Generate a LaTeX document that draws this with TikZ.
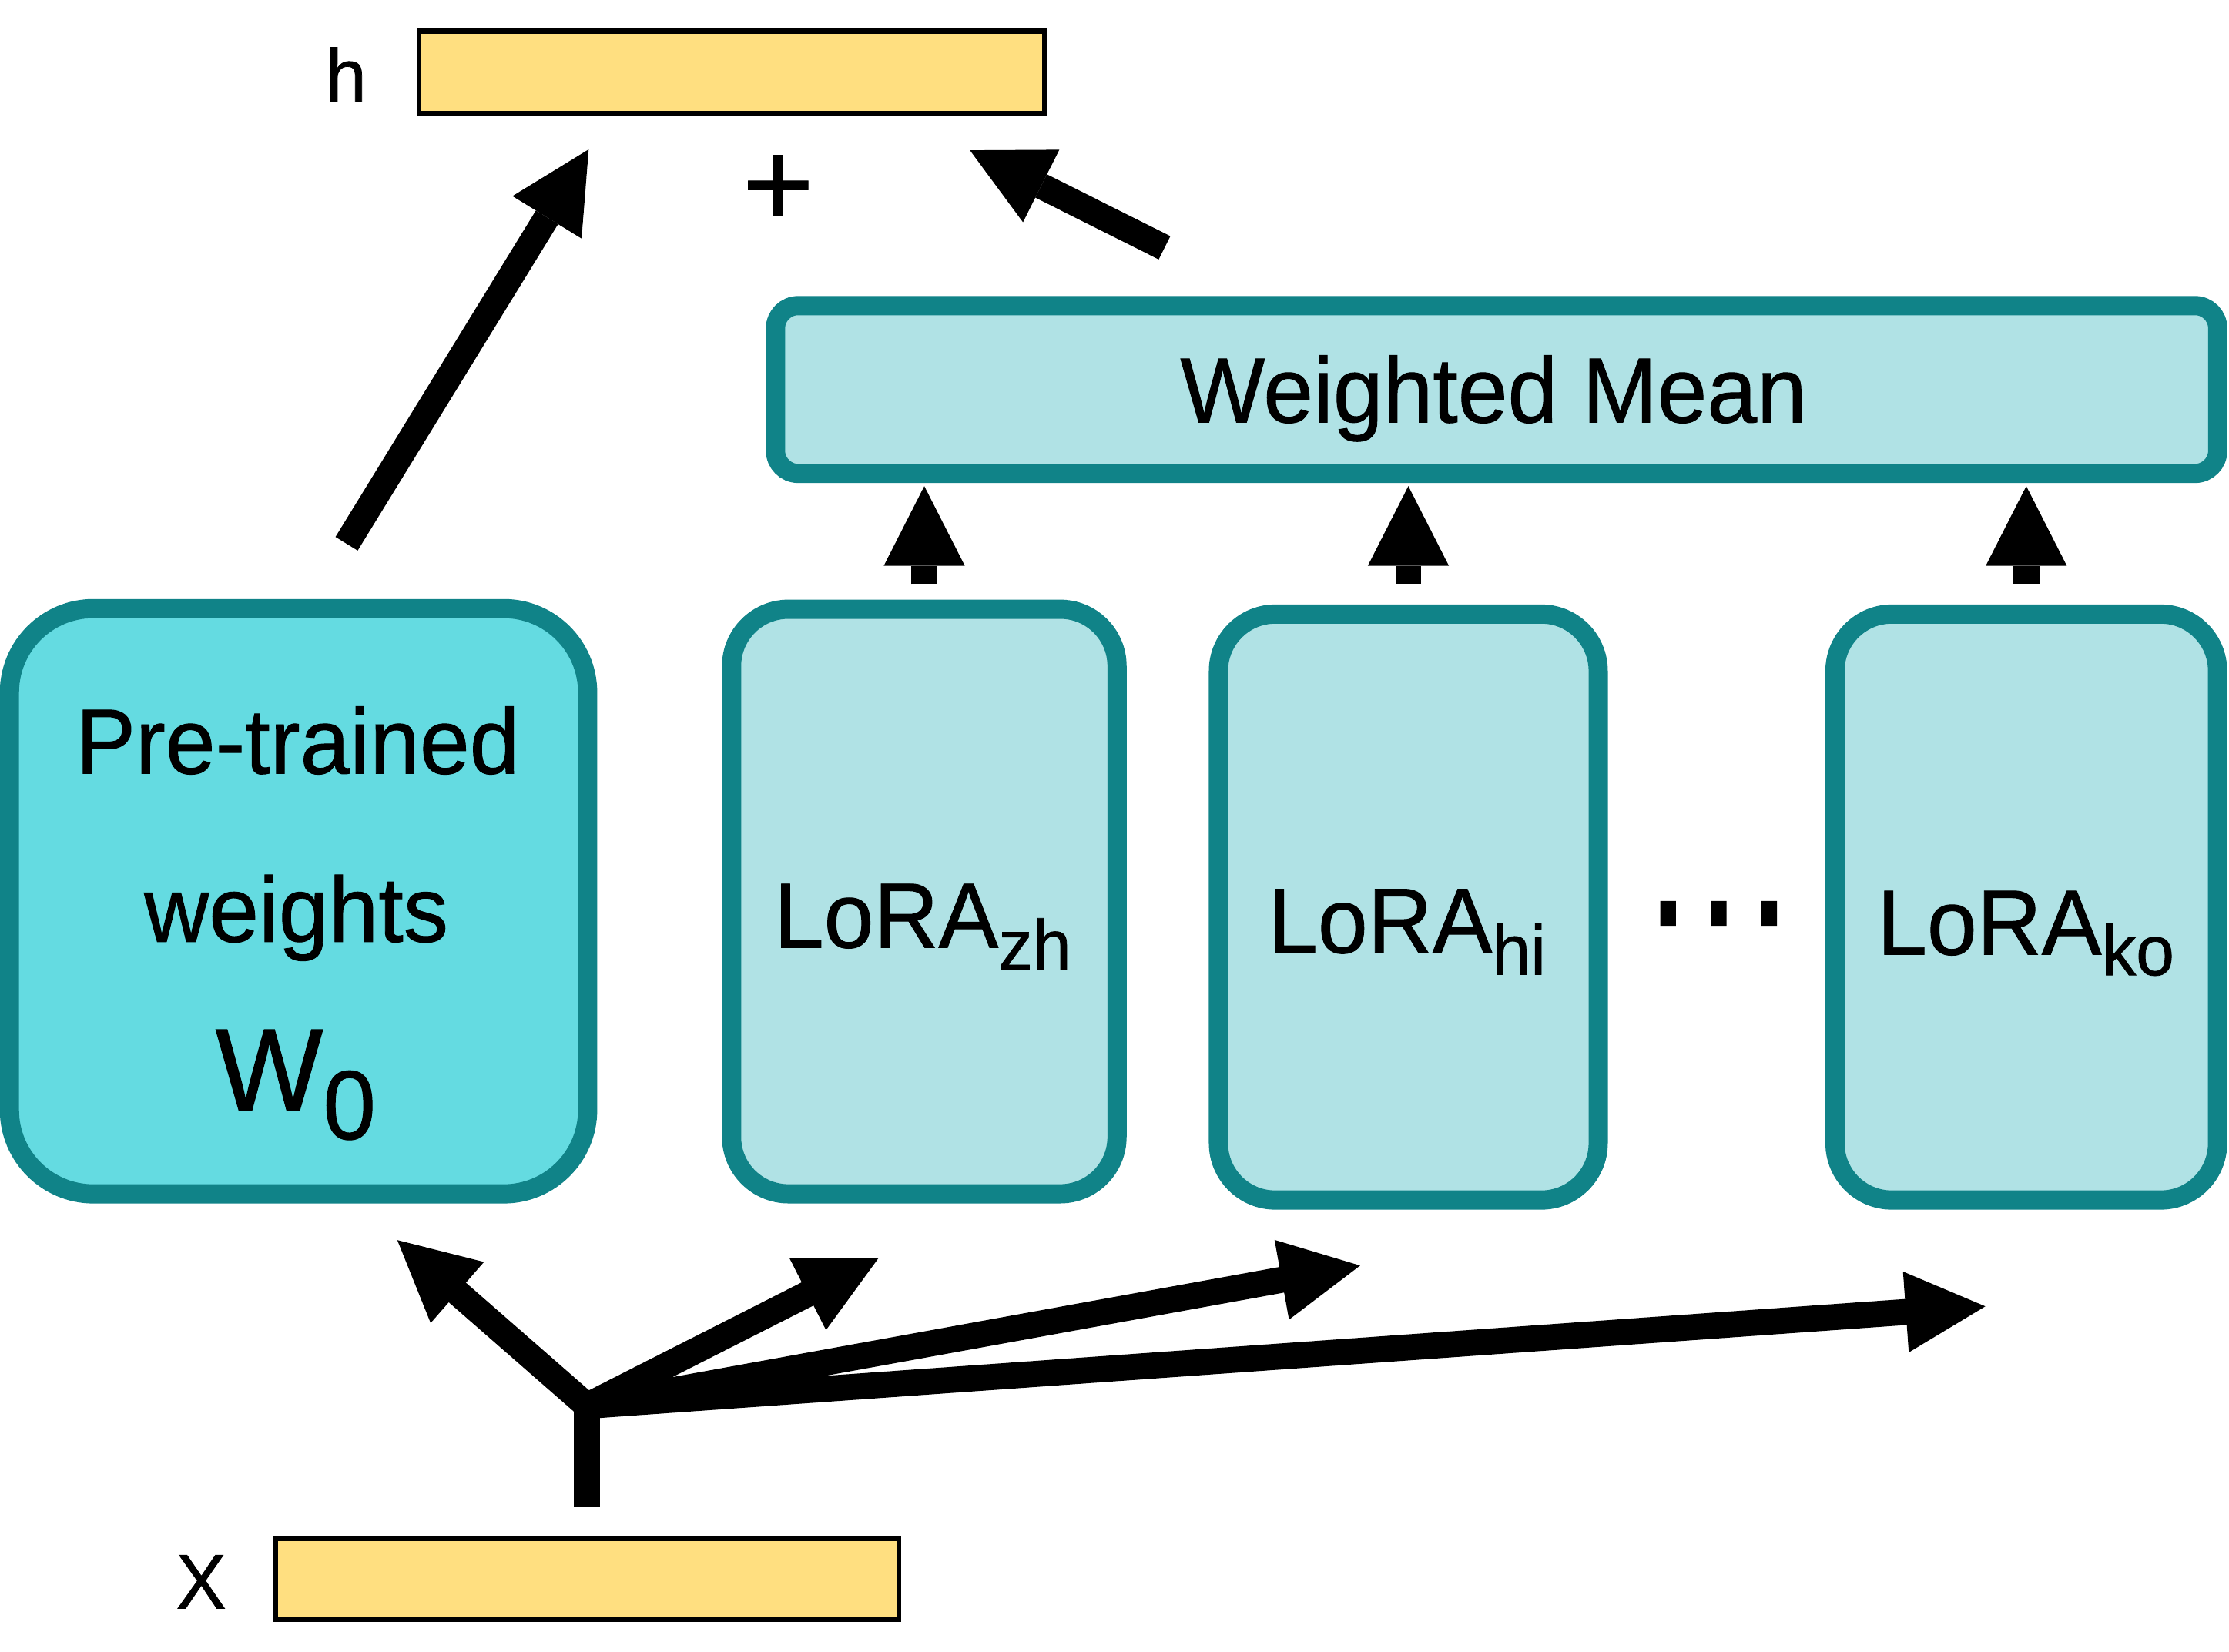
\documentclass[tikz,border=0pt]{standalone}
\usepackage{fontspec}
\setmainfont[FakeBold=0.8]{Liberation Sans}
\usetikzlibrary{arrows.meta}
\definecolor{tealb}{RGB}{16,131,136}
\definecolor{lorafill}{RGB}{176,226,229}
\definecolor{prefill}{RGB}{100,219,225}
\definecolor{vecfill}{RGB}{255,223,128}
\newcommand\fsz[1]{\fontsize{#1}{#1}\selectfont}
\newcommand\sq[1]{\scalebox{0.97}[1]{#1}}
\begin{document}
\begin{tikzpicture}[x=0.01cm,y=-0.01cm,
  box/.style={draw=tealb, line width=0.135cm, fill=lorafill, rounded corners=0.40cm, inner sep=0pt},
  vecbox/.style={draw=black, line width=0.035cm, fill=vecfill, inner sep=0pt},
  arr/.style={line width=0.183cm, -{Triangle[length=0.56cm, width=0.57cm, line width=0pt]}},
  barr/.style={arr, line cap=round},
  stem/.style={line width=0.183cm},
  lbl/.style={inner sep=0pt, anchor=base},
]
\useasboundingbox (0,0) rectangle (1568,1162);

% vectors
\node[vecbox, minimum width=4.40cm, minimum height=0.576cm] (h) at (514.8,50.7) {};
\node[vecbox, minimum width=4.385cm, minimum height=0.57cm] (x) at (413,1110.7) {};
\node[lbl] (hl) at (243.5,71.8) {\fsz{15.1pt}\sq{h}};
\node[lbl] (xl) at (141.5,1131.6) {\fsz{15.5pt}\sq{X}};
\node[lbl] (plus) at (547.5,159) {\fsz{24.5pt}+};

% boxes
\node[box, fill=prefill, rounded corners=0.59cm, minimum width=4.065cm, minimum height=4.115cm] (pre) at (210,634) {};
\node[box, minimum width=2.71cm, minimum height=4.11cm] (zh) at (650.2,634.2) {};
\node[box, minimum width=2.67cm, minimum height=4.12cm] (hi) at (990.7,638.1) {};
\node[box, minimum width=2.69cm, minimum height=4.12cm] (ko) at (1425.4,638.1) {};
\node[box, rounded corners=0.16cm, minimum width=10.14cm, minimum height=1.18cm] (wm) at (1052.8,274) {};

% texts
\node[lbl] (wmt) at (1050.7,297.1) {\fsz{18.5pt}\sq{Weighted Mean}};
\node[lbl] (pt1) at (209.4,544.2) {\fsz{18.5pt}\sq{Pre-trained}};
\node[lbl] (pt2) at (208.4,662.5) {\fsz{18.5pt}\sq{weights}};
\node[lbl] (pt3) at (208,781.3) {\fsz{23.5pt}\sq{W}\raisebox{-0.2cm}{\fsz{19.6pt}\sq{0}}};
\node[lbl] (zht) at (649,666.6) {\fsz{18.5pt}\sq{LoRA}\raisebox{-0.156cm}{\fsz{14.2pt}\sq{zh}}};
\node[lbl] (hit) at (989.7,670.3) {\fsz{18.5pt}\sq{LoRA}\raisebox{-0.153cm}{\fsz{14.2pt}\sq{hi}}};
\node[lbl] (kot) at (1425,671.5) {\fsz{18.5pt}\sq{LoRA}\raisebox{-0.145cm}{\fsz{14.2pt}\sq{ko}}};
\node[lbl] (dots) at (1209,683.5) {\fsz{33pt}\scalebox{0.92}[1.3]{···}};

% arrows to h
\coordinate (pretail) at (243.8,382.5);
\coordinate (htipL) at (414.1,105.1);
\coordinate (wmtail) at (819.2,174.3);
\coordinate (htipR) at (682.3,105.7);
\draw[arr] (pretail) -- (htipL);
\draw[arr] (wmtail) -- (htipR);

% LoRA to weighted mean
\draw[arr] ([yshift=0.11cm]zh.north) -- ([yshift=-0.022cm]zh.north |- wm.south);
\draw[arr] ([yshift=0.146cm]hi.north) -- ([yshift=-0.022cm]hi.north |- wm.south);
\draw[arr] ([yshift=0.146cm]ko.north) -- ([yshift=-0.022cm]ko.north |- wm.south);

% input fan-out
\coordinate (j) at (413,989);
\coordinate (tpre) at (279.5,872.4);
\coordinate (tzh) at (618.1,884.9);
\coordinate (thi) at (956.8,890.3);
\coordinate (tko) at (1396.6,919);
\draw[stem] ([yshift=0.203cm]x.north) -- (j);
\draw[barr] (j) -- (tpre);
\draw[barr] (j) -- (tzh);
\draw[barr] (j) -- (thi);
\draw[barr] (j) -- (tko);
\end{tikzpicture}
\end{document}
